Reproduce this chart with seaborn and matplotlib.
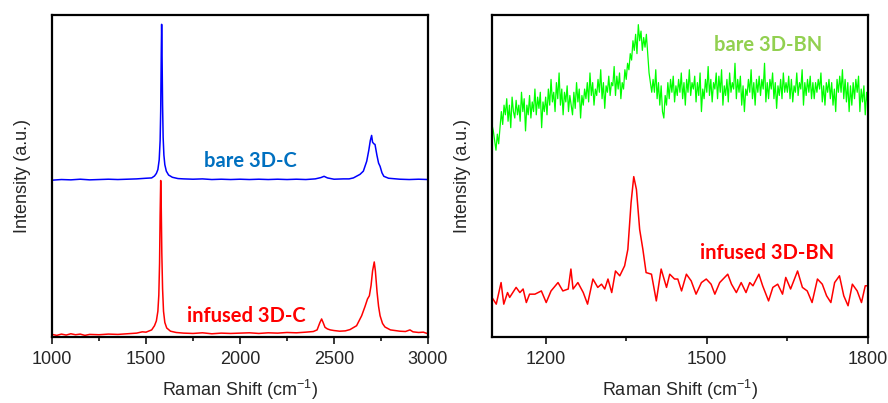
import numpy as np
import pandas as pd
import matplotlib
matplotlib.use("Agg")
import matplotlib.pyplot as plt
import seaborn as sns

sns.set_style("ticks")
plt.rcParams['font.family'] = ['Liberation Sans', 'DejaVu Sans']
plt.rcParams['mathtext.default'] = 'regular'

# 3D-C spectra (left panel)
c_bare_x = [1000, 1050, 1100, 1150, 1200, 1250, 1300, 1350, 1400, 1450, 1500, 1530, 1545, 1555,
            1563, 1570, 1575, 1578, 1581, 1583, 1585, 1588, 1591, 1595, 1600, 1608, 1620, 1640,
            1670, 1700, 1750, 1800, 1850, 1900, 1950, 2000, 2050, 2100, 2150, 2200, 2250, 2300,
            2350, 2400, 2430, 2447, 2465, 2500, 2550, 2580, 2603, 2638, 2656, 2674, 2685, 2693,
            2700, 2705, 2712, 2718, 2728, 2737, 2745, 2755, 2765, 2790, 2850, 2900, 2950, 3000]
c_bare_y = [487, 489, 488, 490, 488, 489, 490, 489, 490, 491, 493, 494, 500, 508,
            520, 550, 610, 700, 880, 971, 890, 720, 620, 565, 535, 515, 503, 496,
            492, 491, 490, 491, 489, 490, 489, 490, 489, 490, 489, 490, 489, 490,
            489, 491, 495, 499, 494, 490, 491, 491, 494, 505, 515, 546, 580, 610,
            626, 605, 600, 598, 565, 540, 530, 510, 499, 493, 490, 489, 490, 489]

c_inf_x = [1000, 1025, 1050, 1075, 1100, 1125, 1150, 1175, 1200, 1250, 1300, 1350, 1400, 1450,
           1480, 1500, 1530, 1545, 1555, 1563, 1568, 1572, 1575, 1578, 1581, 1584, 1588, 1593,
           1600, 1610, 1630, 1660, 1700, 1750, 1800, 1850, 1900, 1950, 2000, 2050, 2100, 2150,
           2200, 2250, 2300, 2350, 2390, 2410, 2425, 2434, 2442, 2452, 2465, 2480, 2500, 2530,
           2560, 2585, 2620, 2647, 2665, 2678, 2688, 2697, 2705, 2714, 2720, 2729, 2737, 2745,
           2758, 2771, 2800, 2850, 2880, 2904, 2920, 2950, 2975, 3000]
c_inf_y = [8, 5, 9, 6, 10, 7, 9, 5, 8, 7, 9, 8, 10, 12,
           16, 15, 22, 35, 50, 80, 130, 230, 380, 486, 400, 260, 150, 80,
           45, 28, 18, 14, 12, 11, 13, 10, 12, 11, 12, 13, 11, 13,
           12, 14, 13, 15, 17, 22, 45, 56, 45, 30, 25, 22, 20, 18,
           19, 23, 35, 66, 95, 118, 128, 160, 205, 233, 205, 139, 95, 66,
           42, 31, 22, 18, 17, 22, 16, 14, 15, 10]

# 3D-BN spectra (right panel), bare sample read every 2.5 cm-1
bn_bare_x = np.arange(1100, 1802.5, 2.5)
bn_bare_y = [660, 640, 610, 580, 630, 600, 650, 700, 660, 720,
             690, 740, 670, 720, 650, 745, 700, 680, 735, 690,
             720, 670, 760, 700, 740, 640, 720, 690, 750, 680,
             730, 700, 770, 690, 745, 710, 760, 650, 730, 700,
             745, 690, 770, 720, 800, 730, 760, 700, 790, 740,
             820, 720, 770, 690, 760, 730, 780, 700, 750, 720,
             690, 760, 710, 790, 730, 770, 680, 750, 720, 770,
             740, 790, 730, 820, 750, 790, 720, 770, 750, 800,
             760, 830, 740, 790, 710, 780, 760, 810, 750, 790,
             780, 840, 750, 810, 770, 820, 740, 790, 770, 830,
             800, 850, 830, 880, 860, 920, 890, 940, 880, 970,
             920, 950, 890, 930, 900, 940, 880, 820, 790, 760,
             800, 760, 830, 740, 790, 720, 780, 700, 680, 750,
             720, 790, 740, 800, 760, 810, 730, 780, 750, 800,
             760, 820, 740, 790, 720, 800, 760, 830, 750, 790,
             770, 810, 730, 790, 750, 820, 700, 770, 740, 800,
             760, 840, 750, 800, 730, 790, 770, 820, 740, 810,
             760, 830, 720, 780, 750, 800, 730, 820, 760, 790,
             770, 850, 740, 800, 760, 810, 720, 780, 700, 770,
             750, 800, 760, 830, 740, 790, 720, 800, 760, 810,
             750, 800, 770, 850, 730, 790, 740, 800, 770, 820,
             740, 790, 710, 780, 750, 800, 740, 820, 760, 790,
             760, 810, 740, 800, 730, 780, 760, 820, 750, 790,
             770, 830, 720, 790, 750, 800, 760, 810, 740, 790,
             740, 790, 760, 800, 770, 820, 730, 780, 720, 790,
             760, 800, 740, 790, 720, 770, 700, 800, 760, 810,
             760, 830, 740, 800, 730, 790, 700, 780, 720, 790,
             740, 800, 760, 810, 700, 770, 730, 780, 690, 760,
             720]

bn_inf_x = [1100, 1108, 1117, 1122, 1129, 1133, 1145, 1152, 1158, 1164, 1170, 1180, 1192, 1201,
            1210, 1223, 1232, 1242, 1247, 1251, 1260, 1270, 1278, 1288, 1297, 1304, 1310, 1316,
            1323, 1330, 1338, 1347, 1353, 1359, 1364, 1369, 1375, 1381, 1387, 1397, 1406, 1415,
            1425, 1431, 1440, 1446, 1453, 1462, 1471, 1480, 1490, 1499, 1508, 1515, 1524, 1539,
            1546, 1555, 1564, 1573, 1580, 1586, 1597, 1604, 1615, 1623, 1632, 1641, 1647, 1656,
            1669, 1678, 1687, 1696, 1706, 1715, 1723, 1731, 1738, 1747, 1755, 1763, 1771, 1780,
            1788, 1795, 1800]
bn_inf_y = [123, 102, 169, 102, 138, 123, 154, 138, 149, 107, 133, 133, 143, 107,
            143, 169, 143, 149, 211, 149, 169, 138, 102, 180, 154, 164, 149, 180,
            138, 205, 190, 221, 272, 417, 498, 458, 334, 272, 200, 195, 112, 211,
            154, 195, 180, 180, 143, 195, 174, 133, 169, 180, 164, 133, 169, 195,
            164, 138, 169, 138, 169, 159, 195, 159, 112, 154, 164, 133, 185, 149,
            205, 154, 143, 107, 180, 164, 128, 107, 169, 190, 128, 97, 164, 143,
            107, 159, 159]

fig = plt.figure(figsize=(8.88, 4.03), dpi=100)
ax1 = fig.add_axes([0.0586, 0.1638, 0.4234, 0.799])
ax2 = fig.add_axes([0.554, 0.1638, 0.4234, 0.799])

lab_font = ['Lato', 'DejaVu Sans']

sns.lineplot(x=c_bare_x, y=c_bare_y, ax=ax1, color='#0000ff', lw=1.1)
sns.lineplot(x=c_inf_x, y=c_inf_y, ax=ax1, color='#ff0000', lw=1.1)
ax1.set_xlim(1000, 3000)
ax1.set_ylim(0, 1000)
ax1.set_xticks([1000, 1500, 2000, 2500, 3000])
ax1.set_xticks([1250, 1750, 2250, 2750], minor=True)
ax1.text(2053, 548, 'bare 3D-C', color='#0070c0', fontsize=14.5, fontweight='bold',
         family=lab_font, ha='center', va='center')
ax1.text(2032, 65, 'infused 3D-C', color='#ff0000', fontsize=14.5, fontweight='bold',
         family=lab_font, ha='center', va='center')

sns.lineplot(x=bn_bare_x, y=bn_bare_y, ax=ax2, color='#00ff00', lw=0.9)
sns.lineplot(x=bn_inf_x, y=bn_inf_y, ax=ax2, color='#ff0000', lw=1.1)
ax2.set_xlim(1100, 1800)
ax2.set_ylim(0, 1000)
ax2.set_xticks([1200, 1500, 1800])
ax2.set_xticks([1350, 1650], minor=True)
ax2.text(1614, 907, 'bare 3D-BN', color='#92d050', fontsize=14.5, fontweight='bold',
         family=lab_font, ha='center', va='center')
ax2.text(1612, 260, 'infused 3D-BN', color='#ff0000', fontsize=14.5, fontweight='bold',
         family=lab_font, ha='center', va='center')

for ax in (ax1, ax2):
    ax.set_yticks([])
    for s in ax.spines.values():
        s.set_visible(True)
        s.set_linewidth(1.6)
        s.set_color('black')
    ax.tick_params(axis='x', which='major', direction='out', length=5, width=1.3,
                   labelsize=13, pad=5)
    ax.tick_params(axis='x', which='minor', direction='out', length=3, width=1.3)
    ax.set_xlabel('Raman Shift (cm$^{-1}$)', fontsize=13, labelpad=7)
    ax.set_ylabel('Intensity (a.u.)', fontsize=13, labelpad=15)

fig.savefig('out.png', dpi=100)
